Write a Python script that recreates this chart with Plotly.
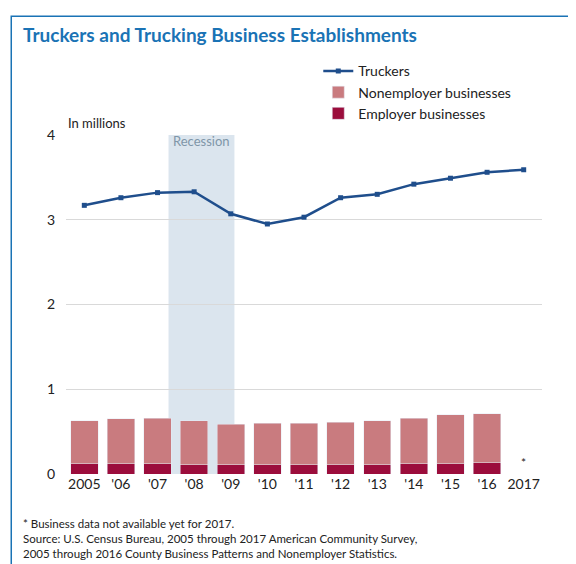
import plotly.graph_objects as go

years = [2005, 2006, 2007, 2008, 2009, 2010, 2011, 2012, 2013, 2014, 2015, 2016, 2017]
tick_labels = ["2005", "'06", "'07", "'08", "'09", "'10", "'11", "'12", "'13", "'14", "'15", "'16", "2017"]
truckers = [3.17, 3.26, 3.32, 3.33, 3.07, 2.95, 3.03, 3.26, 3.30, 3.42, 3.49, 3.56, 3.59]
bar_years = years[:-1]
employer = [0.12, 0.12, 0.12, 0.11, 0.11, 0.11, 0.11, 0.11, 0.11, 0.12, 0.12, 0.13]
total_business = [0.63, 0.65, 0.66, 0.63, 0.59, 0.60, 0.60, 0.61, 0.63, 0.66, 0.70, 0.71]
nonemployer = [t - e for t, e in zip(total_business, employer)]

FONT = "Lato, DejaVu Sans"

fig = go.Figure()
fig.add_trace(go.Scatter(
    x=years, y=truckers, mode="lines+markers", name="Truckers", legendrank=1,
    line=dict(color="#1f4e8c", width=2.5),
    marker=dict(symbol="square", size=5, color="#1f4e8c")))
fig.add_trace(go.Bar(x=bar_years, y=employer, name="Employer businesses", legendrank=3,
                     marker_color="#9b0d3c", width=0.75))
fig.add_trace(go.Bar(x=bar_years, y=nonemployer, name="Nonemployer businesses", legendrank=2,
                     marker_color="#c97b7f", width=0.75))

fig.add_vrect(x0=2007.3, x1=2009.1, fillcolor="#dbe5ee", line_width=0, layer="below")

fig.add_shape(type="rect", xref="paper", yref="paper", x0=-0.115, x1=1.07, y0=-0.27, y1=1.35,
              line=dict(color="#1a73b5", width=1.5))

annotations = [
    dict(text="<b>Truckers and Trucking Business Establishments</b>", x=-0.095, y=1.335,
         xref="paper", yref="paper", xanchor="left", yanchor="top", showarrow=False,
         font=dict(size=19, color="#1a73b5", family=FONT)),
    dict(text="In millions", x=0, y=1.0, xref="paper", yref="paper", xanchor="left",
         yanchor="bottom", showarrow=False, font=dict(size=13, color="#222", family=FONT), yshift=2),
    dict(text="Recession", x=2008.2, y=4.0, yanchor="bottom", showarrow=False,
         font=dict(size=13, color="#7f96a8", family=FONT), yshift=-16),
    dict(text="*", x=2017, y=0.02, yanchor="bottom", showarrow=False, font=dict(size=12, color="#222")),
    dict(text="* Business data not available yet for 2017.<br>Source: U.S. Census Bureau, 2005 through 2017 American Community Survey,<br>2005 through 2016 County Business Patterns and Nonemployer Statistics.",
         x=-0.095, y=-0.26, xref="paper", yref="paper", xanchor="left", yanchor="bottom",
         align="left", showarrow=False, font=dict(size=11.5, color="#222", family=FONT)),
]
for a in annotations:
    fig.add_annotation(**a)

fig.update_layout(
    width=576, height=564, barmode="stack", plot_bgcolor="white", paper_bgcolor="white",
    margin=dict(l=58, r=42, t=127, b=98),
    font=dict(family=FONT, size=13, color="#222"),
    legend=dict(x=0.53, y=1.235, xanchor="left", yanchor="top", traceorder="normal",
                font=dict(size=14), bgcolor="rgba(0,0,0,0)", tracegroupgap=0),
    xaxis=dict(tickmode="array", tickvals=years, ticktext=tick_labels, range=[2004.5, 2017.5],
               showgrid=False, showline=False, ticks="", tickfont=dict(size=14)),
    yaxis=dict(range=[0, 4.0], tickvals=[0, 1, 2, 3, 4], showgrid=True, gridcolor="#d9d9d9",
               zeroline=False, tickfont=dict(size=14), ticklabelstandoff=10),
)
fig.write_html("out.html")
